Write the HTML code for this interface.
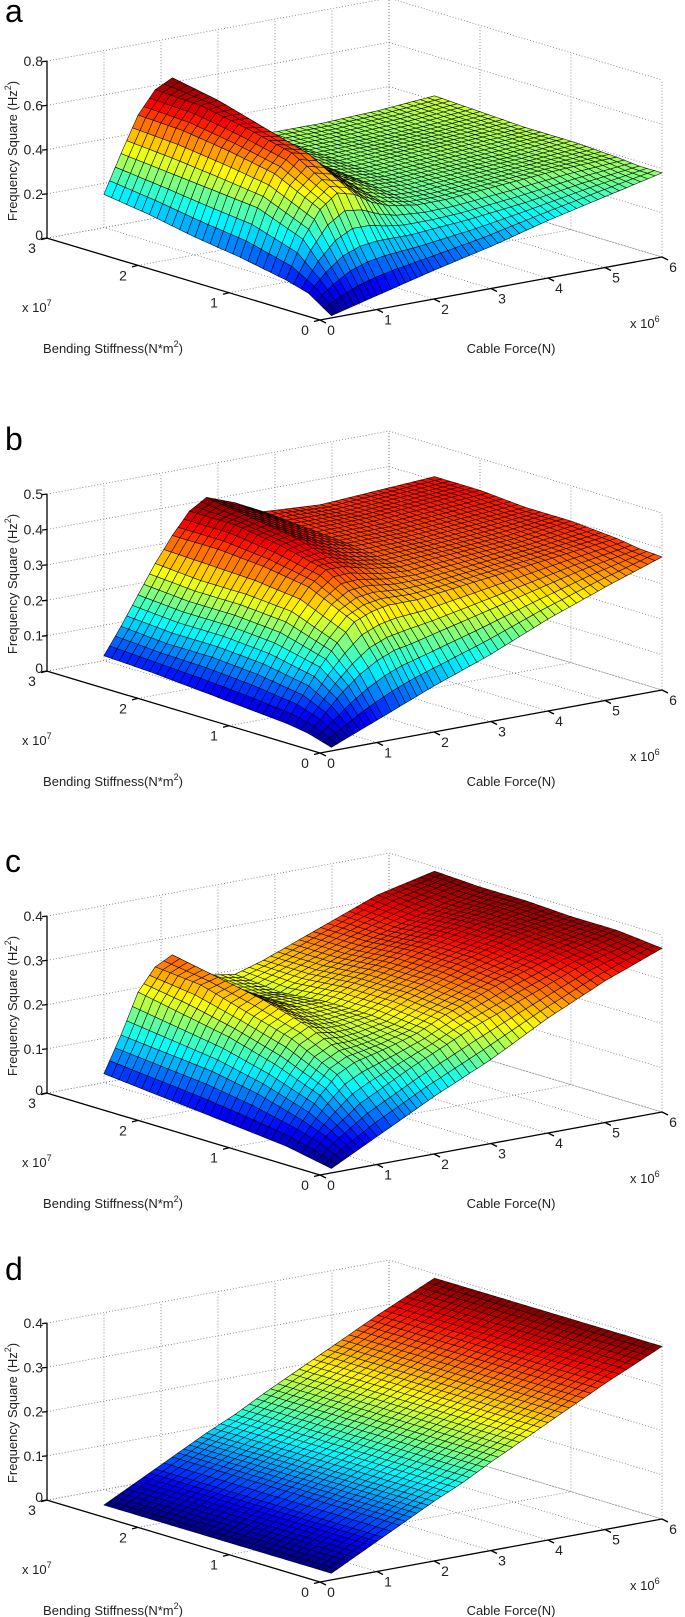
<!DOCTYPE html>
<html><head><meta charset="utf-8"><title>Frequency square surfaces</title>
<style>
html,body{margin:0;padding:0;background:#fff;}
svg{display:block;font-family:"Liberation Sans",Arial,sans-serif;}
</style></head>
<body>
<svg id="fig" width="685" height="1617" viewBox="0 0 685 1617" xmlns="http://www.w3.org/2000/svg">
<rect x="0" y="0" width="685" height="1617" fill="#fff"/>
</svg>
<script>
// ---- data ----
const forceValues = [0.2, 0.5, 0.8, 1.1, 1.4, 1.7, 2.0, 2.5, 3, 4, 5, 6];      // x 10^6 N
const stiffnessValues = [0, 0.25, 0.5, 1.0, 1.5, 2.0, 2.5];                 // x 10^7 N*m^2
const forceTicks = [0, 1, 2, 3, 4, 5, 6];
const stiffnessTicks = [0, 1, 2, 3];
const zTicksA = [0, 0.2, 0.4, 0.6, 0.8];
const zTicksB = [0, 0.1, 0.2, 0.3, 0.4, 0.5];
const zTicksC = [0, 0.1, 0.2, 0.3, 0.4];
const zTicksD = [0, 0.1, 0.2, 0.3, 0.4];
const zTickLabelsA = ["0", "0.2", "0.4", "0.6", "0.8"];
const zTickLabelsB = ["0", "0.1", "0.2", "0.3", "0.4", "0.5"];
const zTickLabelsC = ["0", "0.1", "0.2", "0.3", "0.4"];
const zTickLabelsD = ["0", "0.1", "0.2", "0.3", "0.4"];
// rows = stiffnessValues, columns = forceValues
const surfaceA = [
 [0.01,0.03,0.05,0.07,0.09,0.11,0.13,0.16,0.19,0.26,0.32,0.38],
 [0.08,0.16,0.22,0.25,0.26,0.26,0.26,0.27,0.28,0.31,0.35,0.38],
 [0.11,0.28,0.40,0.46,0.44,0.39,0.36,0.34,0.34,0.36,0.38,0.39],
 [0.15,0.36,0.50,0.58,0.56,0.48,0.42,0.37,0.36,0.37,0.38,0.40],
 [0.18,0.38,0.54,0.63,0.62,0.54,0.46,0.39,0.37,0.38,0.39,0.40],
 [0.22,0.40,0.57,0.67,0.68,0.61,0.51,0.42,0.38,0.38,0.39,0.41],
 [0.25,0.42,0.58,0.68,0.72,0.66,0.55,0.44,0.39,0.39,0.40,0.42]
];
const surfaceB = [
 [0.01,0.03,0.05,0.07,0.09,0.11,0.13,0.16,0.19,0.26,0.32,0.376],
 [0.03,0.08,0.13,0.17,0.20,0.22,0.23,0.25,0.27,0.31,0.35,0.38],
 [0.04,0.11,0.18,0.24,0.29,0.31,0.32,0.32,0.33,0.35,0.37,0.39],
 [0.05,0.13,0.21,0.29,0.35,0.39,0.39,0.37,0.36,0.37,0.38,0.40],
 [0.06,0.14,0.22,0.30,0.37,0.42,0.43,0.40,0.38,0.38,0.39,0.40],
 [0.07,0.14,0.22,0.30,0.38,0.44,0.45,0.42,0.39,0.39,0.40,0.41],
 [0.076,0.15,0.23,0.31,0.38,0.44,0.47,0.44,0.40,0.39,0.40,0.41]
];
const surfaceC = [
 [0.01,0.03,0.05,0.07,0.09,0.11,0.13,0.16,0.19,0.26,0.32,0.37],
 [0.02,0.06,0.09,0.12,0.14,0.16,0.18,0.21,0.24,0.29,0.34,0.375],
 [0.03,0.08,0.13,0.17,0.19,0.20,0.21,0.23,0.26,0.31,0.35,0.38],
 [0.04,0.11,0.17,0.22,0.24,0.23,0.23,0.24,0.27,0.32,0.36,0.38],
 [0.05,0.13,0.20,0.25,0.27,0.25,0.24,0.24,0.27,0.32,0.36,0.385],
 [0.06,0.14,0.22,0.28,0.29,0.26,0.24,0.23,0.26,0.31,0.35,0.385],
 [0.07,0.15,0.24,0.29,0.31,0.28,0.25,0.24,0.26,0.31,0.36,0.39]
];
const surfaceD = [
 [0.015,0.035,0.055,0.075,0.095,0.115,0.135,0.165,0.20,0.265,0.33,0.39],
 [0.015,0.035,0.055,0.075,0.095,0.115,0.135,0.165,0.20,0.265,0.33,0.39],
 [0.015,0.035,0.055,0.075,0.095,0.115,0.135,0.165,0.20,0.265,0.33,0.39],
 [0.015,0.035,0.055,0.075,0.095,0.115,0.135,0.165,0.20,0.265,0.33,0.39],
 [0.015,0.035,0.055,0.075,0.095,0.115,0.135,0.165,0.20,0.265,0.33,0.39],
 [0.015,0.035,0.055,0.075,0.095,0.115,0.135,0.165,0.20,0.265,0.33,0.39],
 [0.015,0.035,0.055,0.075,0.095,0.115,0.135,0.165,0.20,0.265,0.33,0.39]
];

const panels = [
  {letter:"a", zeroY:238, zmax:0.8, ticks:zTicksA, labels:zTickLabelsA, data:surfaceA, letterY:22},
  {letter:"b", zeroY:671, zmax:0.5, ticks:zTicksB, labels:zTickLabelsB, data:surfaceB, letterY:450},
  {letter:"c", zeroY:1093, zmax:0.4, ticks:zTicksC, labels:zTickLabelsC, data:surfaceC, letterY:872},
  {letter:"d", zeroY:1500, zmax:0.4, ticks:zTicksD, labels:zTickLabelsD, data:surfaceD, letterY:1280}
];

const NS = "http://www.w3.org/2000/svg";
const svg = document.getElementById("fig");
function mk(tag, attrs, parent){
  const e = document.createElementNS(NS, tag);
  for (const k in attrs) e.setAttribute(k, attrs[k]);
  (parent||svg).appendChild(e);
  return e;
}
function jet(t){
  t = Math.max(0, Math.min(1, t));
  const c = v => Math.round(255*Math.max(0, Math.min(1, v)));
  return "rgb(" + c(1.5-Math.abs(4*t-3)) + "," + c(1.5-Math.abs(4*t-2)) + "," + c(1.5-Math.abs(4*t-1)) + ")";
}

panels.forEach(function(p){
  const g = mk("g", {});
  
  
  const Oy = p.zeroY + 82;
  const s = 177 / p.zmax;
  const X = (F,B) => 320 + 57*F - 91*B;
  const Y = (F,B,z) => Oy - 10.5*F - 27.3*B - z*s;

  // grid lines (back walls + floor)
  const grid = mk("g", {stroke:"#777", "stroke-width":"0.8", "stroke-dasharray":"1,2", fill:"none"}, g);
  
  
  p.ticks.forEach(function(z){
    const l1 = mk("polyline", {points: X(0,3)+","+Y(0,3,z)+" "+X(6,3)+","+Y(6,3,z)+" "+X(6,0)+","+Y(6,0,z)}, grid);
    
    
  });
  forceTicks.forEach(function(f){
    const l = mk("polyline", {points: X(f,0)+","+Y(f,0,0)+" "+X(f,3)+","+Y(f,3,0)+" "+X(f,3)+","+Y(f,3,p.zmax)}, grid);
    
    
  });
  stiffnessTicks.forEach(function(b){
    const l = mk("polyline", {points: X(0,b)+","+Y(0,b,0)+" "+X(6,b)+","+Y(6,b,0)+" "+X(6,b)+","+Y(6,b,p.zmax)}, grid);
    
    
  });

  // surface
  const surf = mk("g", {stroke:"#000", "stroke-width":"0.6", "stroke-opacity":"0.9"}, g);
  
  
  let zmin = Infinity, zmx = -Infinity;
  p.data.forEach(r => r.forEach(v => { zmin = Math.min(zmin, v); zmx = Math.max(zmx, v); }));
  const quads = [];
  for (let i = 0; i < stiffnessValues.length-1; i++){
    for (let j = 0; j < forceValues.length-1; j++){
      const F0 = forceValues[j], F1 = forceValues[j+1], B0 = stiffnessValues[i], B1 = stiffnessValues[i+1];
      const z00 = p.data[i][j], z01 = p.data[i][j+1], z10 = p.data[i+1][j], z11 = p.data[i+1][j+1];
      const nf = Math.max(1, Math.round((F1-F0)/0.12));
      const nb = Math.max(1, Math.round((B1-B0)/0.09));
      const zi = (u,v) => z00*(1-u)*(1-v) + z01*u*(1-v) + z10*(1-u)*v + z11*u*v;
      for (let a = 0; a < nb; a++){
        for (let b = 0; b < nf; b++){
          const u0 = b/nf, u1 = (b+1)/nf, v0 = a/nb, v1 = (a+1)/nb;
          const pts = [[u0,v0],[u1,v0],[u1,v1],[u0,v1]].map(function(uv){
            const F = F0 + (F1-F0)*uv[0], B = B0 + (B1-B0)*uv[1], z = zi(uv[0],uv[1]);
            return [X(F,B), Y(F,B,z), z];
          });
          const zc = (pts[0][2]+pts[1][2]+pts[2][2]+pts[3][2])/4;
          const Fc = F0 + (F1-F0)*(u0+u1)/2, Bc = B0 + (B1-B0)*(v0+v1)/2;
          quads.push({pts:pts, z:zc, depth:10.5*Fc + 27.3*Bc});
        }
      }
    }
  }
  quads.sort((q1,q2) => q2.depth - q1.depth);
  quads.forEach(function(q){
    const poly = mk("polygon", {points: q.pts.map(pt => pt[0].toFixed(1)+","+pt[1].toFixed(1)).join(" "), fill: jet((q.z-zmin)/(zmx-zmin))}, surf);
    
    
  });

  // axes
  const ax = mk("g", {stroke:"#000", "stroke-width":"1.3", fill:"none"}, g);
  
  
  const zAxis = mk("line", {x1:X(0,3), y1:Y(0,3,0), x2:X(0,3), y2:Y(0,3,p.zmax)}, ax);
  
  
  const bAxis = mk("line", {x1:X(0,3), y1:Y(0,3,0), x2:X(0,0), y2:Y(0,0,0)}, ax);
  
  
  const fAxis = mk("line", {x1:X(0,0), y1:Y(0,0,0), x2:X(6,0), y2:Y(6,0,0)}, ax);
  
  

  const txt = mk("g", {fill:"#222", "font-size":"13"}, g);
  
  
  p.ticks.forEach(function(z, k){
    const tk = mk("line", {x1:X(0,3), y1:Y(0,3,z), x2:X(0,3)-5, y2:Y(0,3,z)+0.5}, ax);
    
    
    const t = mk("text", {x:X(0,3)-4, y:Y(0,3,z)+(z===0?2:5), "text-anchor":"end", "font-size":"14"}, txt);
    t.textContent = p.labels[k];
    
    
  });
  stiffnessTicks.forEach(function(b){
    const tk = mk("line", {x1:X(0,b), y1:Y(0,b,0), x2:X(0,b)-6, y2:Y(0,b,0)+1.5}, ax);
    
    
    const t = mk("text", {x:X(0,b)-15, y:Y(0,b,0)+15, "text-anchor":"middle", "font-size":"14"}, txt);
    t.textContent = String(b);
    
    
  });
  forceTicks.forEach(function(f){
    const tk = mk("line", {x1:X(f,0), y1:Y(f,0,0), x2:X(f,0)+6, y2:Y(f,0,0)+3}, ax);
    
    
    const t = mk("text", {x:X(f,0)+11, y:Y(f,0,0)+15, "text-anchor":"middle", "font-size":"14"}, txt);
    t.textContent = String(f);
    
    
  });
  const e7 = mk("text", {x:22, y:p.zeroY+74}, txt);
  e7.innerHTML = 'x 10<tspan dy="-6" font-size="9">7</tspan>';
  
  
  const e6 = mk("text", {x:630, y:p.zeroY+90}, txt);
  e6.innerHTML = 'x 10<tspan dy="-6" font-size="9">6</tspan>';
  
  
  const bt = mk("text", {x:113, y:p.zeroY+115, "text-anchor":"middle"}, txt);
  bt.innerHTML = 'Bending Stiffness(N*m<tspan dy="-6" font-size="9">2</tspan><tspan dy="6">)</tspan>';
  
  
  const ft = mk("text", {x:511, y:p.zeroY+115, "text-anchor":"middle"}, txt);
  ft.textContent = "Cable Force(N)";
  
  
  const zt = mk("text", {x:0, y:0, "text-anchor":"middle", transform:"translate(17," + (p.zeroY-87) + ") rotate(-90)"}, txt);
  zt.innerHTML = 'Frequency Square (Hz<tspan dy="-6" font-size="9">2</tspan><tspan dy="6">)</tspan>';
  
  
  const lt = mk("text", {x:5, y:p.letterY, "font-size":"32", fill:"#000"}, g);
  lt.textContent = p.letter;
  
  
});
</script>
</body></html>
